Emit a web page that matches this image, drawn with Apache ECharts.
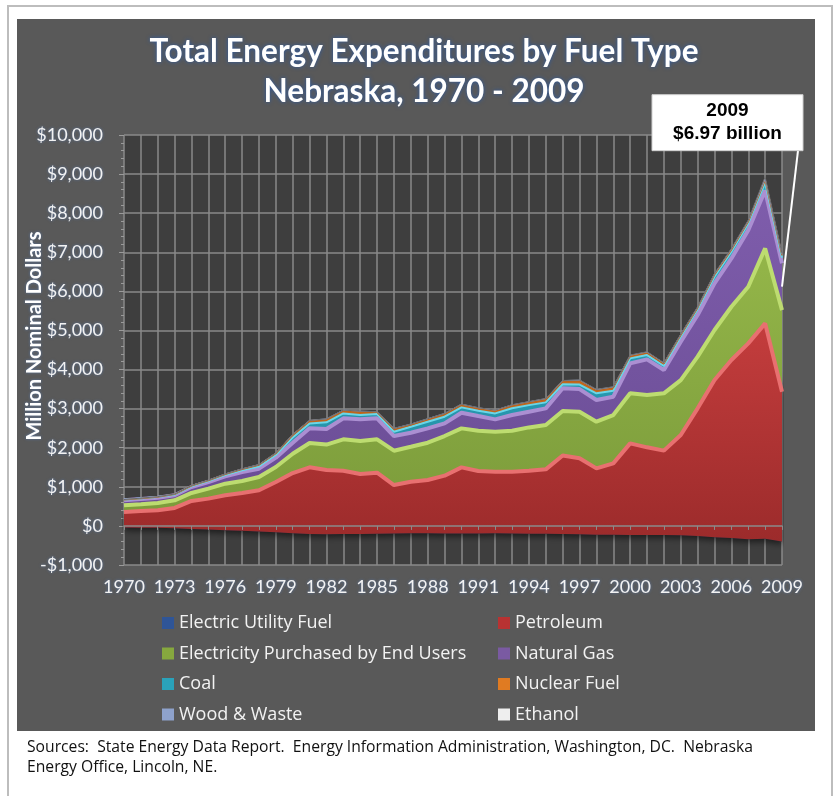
<!DOCTYPE html>
<html><head><meta charset="utf-8">
<script src="https://cdn.jsdelivr.net/npm/echarts@6/dist/echarts.min.js"></script>
<style>html,body{margin:0;padding:0;background:#fff}#c{width:835px;height:796px}</style>
</head><body><div id="c"></div>
<script>
const years = ['1970','1971','1972','1973','1974','1975','1976','1977','1978','1979',
  '1980','1981','1982','1983','1984','1985','1986','1987','1988','1989',
  '1990','1991','1992','1993','1994','1995','1996','1997','1998','1999',
  '2000','2001','2002','2003','2004','2005','2006','2007','2008','2009'];

const electricUtilityFuel = [-40,-45,-50,-60,-80,-95,-110,-125,-140,-160,
  -190,-210,-215,-210,-205,-200,-195,-190,-190,-195,
  -195,-195,-190,-195,-200,-200,-210,-215,-225,-225,
  -230,-235,-230,-240,-260,-290,-310,-340,-330,-400];
const petroleum = [397,428,450,520,718,793,893,968,1051,1283,
  1543,1710,1645,1620,1532,1562,1241,1321,1364,1480,
  1693,1599,1577,1582,1613,1647,2010,1944,1697,1825,
  2342,2245,2155,2566,3268,4022,4553,5009,5511,3833];
const electricity = [171,170,187,195,205,255,298,306,340,383,
  494,620,650,804,844,852,878,895,955,1014,
  997,1031,1023,1048,1107,1133,1140,1191,1194,1236,
  1279,1338,1466,1405,1321,1279,1364,1449,1918,2087];
const naturalGas = [127,137,136,128,153,170,187,230,213,239,
  281,380,400,537,555,537,375,358,366,323,
  401,375,315,401,401,426,580,580,554,469,
  767,912,597,981,1066,1193,1236,1449,1480,1200];
const coal = [13,13,15,17,19,27,32,41,56,70,
  132,120,170,127,110,110,111,153,170,171,
  136,137,153,174,169,154,105,115,171,153,
  128,111,102,128,145,170,171,170,200,140];
const nuclearFuel = [0,0,2,7,12,12,21,31,40,40,
  68,67,75,70,85,45,70,53,62,70,
  68,60,67,72,71,80,75,98,80,80,
  62,61,60,42,40,55,50,45,70,60];
const woodWaste = [7,7,8,8,8,8,9,9,10,10,
  12,13,14,15,15,15,15,15,15,15,
  15,15,15,15,16,16,16,17,17,17,
  17,17,17,18,18,19,20,21,25,25];
const ethanol = [0,0,0,0,0,0,0,0,0,0,
  0,0,0,0,0,0,0,0,0,0,
  2,2,3,3,3,4,4,5,5,6,
  6,7,8,8,10,12,15,20,55,25];

const yTicks = { min: -1000, max: 10000, interval: 1000 };
const calloutLines = ['2009', '$6.97 billion'];

const FONT = 'Lato, "Open Sans", sans-serif';
const LFONT = '"Open Sans", Lato, sans-serif';
const glow = { textShadowColor: 'rgba(90,140,220,0.55)', textShadowBlur: 3 };

function grad(top, bottom) {
  return new echarts.graphic.LinearGradient(0, 0, 0, 1, [
    { offset: 0, color: top }, { offset: 1, color: bottom }]);
}
function mk(name, data, color, line, top, bottom, lw, extraArea) {
  return {
    type: 'line', name: name, data: data, stack: 'total', stackStrategy: 'all',
    showSymbol: false, symbol: 'none', smooth: false,
    itemStyle: { color: color },
    lineStyle: { color: line, width: lw },
    areaStyle: Object.assign({ color: grad(top, bottom), opacity: 1 }, extraArea || {}),
    emphasis: { disabled: true }, silent: true
  };
}

const chart = echarts.init(document.getElementById('c'), null, { renderer: 'canvas' });

const legendText = { color: '#f2f2f2', fontSize: 18, fontFamily: LFONT };

chart.setOption({
  backgroundColor: '#ffffff',
  animation: false,
  title: {
    text: 'Total Energy Expenditures by Fuel Type\nNebraska, 1970 - 2009',
    left: 419, top: 27, textAlign: 'center',
    textStyle: { color: '#ffffff', fontFamily: FONT, fontWeight: 'bold', fontSize: 31.5, lineHeight: 40,
      textShadowColor: 'rgba(40,90,170,0.9)', textShadowBlur: 4 }
  },
  legend: [
    { orient: 'vertical', left: 157, top: 609, itemWidth: 12, itemHeight: 12, itemGap: 12.5, icon: 'rect',
      textStyle: legendText, selectedMode: false,
      data: ['Electric Utility Fuel', 'Electricity Purchased by End Users', 'Coal', 'Wood & Waste'] },
    { orient: 'vertical', left: 493, top: 609, itemWidth: 12, itemHeight: 12, itemGap: 12.5, icon: 'rect',
      textStyle: legendText, selectedMode: false,
      data: ['Petroleum', 'Natural Gas', 'Nuclear Fuel', 'Ethanol'] }
  ],
  grid: { left: 124, right: 53, top: 135, bottom: 231, show: true, backgroundColor: '#3e3e3e', borderWidth: 0 },
  xAxis: [
    { type: 'category', data: years, boundaryGap: false, position: 'bottom',
      axisLine: { show: false, onZero: false }, axisTick: { show: false },
      axisLabel: { interval: 2, margin: 13, color: '#f2f2f2', fontSize: 18, fontFamily: FONT, ...glow },
      splitLine: { show: true, interval: 0, lineStyle: { color: '#8a8a8a', width: 1.5 } } },
    { type: 'category', data: years, boundaryGap: false, position: 'bottom', z: 10,
      axisLine: { show: true, onZero: true, lineStyle: { color: '#8a8a8a', width: 1.5 } },
      axisTick: { show: true, interval: 0, length: 4, lineStyle: { color: '#8a8a8a' } },
      axisLabel: { show: false }, splitLine: { show: false } }
  ],
  yAxis: {
    type: 'value', min: yTicks.min, max: yTicks.max, interval: yTicks.interval,
    name: 'Million Nominal Dollars', nameLocation: 'middle', nameGap: 79, nameRotate: 90,
    nameMoveOverlap: false,
    nameTextStyle: { color: '#ffffff', fontFamily: FONT, fontWeight: 'bold', fontSize: 20, padding: [0, 0, 0, 28], ...glow },
    axisLine: { show: false },
    axisTick: { show: true, length: 5, lineStyle: { color: '#9a9a9a' } },
    minorTick: { show: true, splitNumber: 5, length: 3, lineStyle: { color: '#9a9a9a' } },
    axisLabel: { margin: 21, color: '#f2f2f2', fontSize: 18, fontFamily: FONT, ...glow,
      formatter: v => (v < 0 ? '-$' : '$') + Math.abs(v).toLocaleString('en-US') },
    splitLine: { show: true, lineStyle: { color: '#8a8a8a', width: 1.5 } }
  },
  series: [
    mk('Electric Utility Fuel', electricUtilityFuel, '#2f5597', 'rgba(0,0,0,0)', '#2f5597', '#24467f', 0),
    mk('Petroleum', petroleum, '#b83232', '#e87070', '#c43d3d', '#9c2b2b', 4,
      { shadowColor: 'rgba(0,0,0,0.55)', shadowBlur: 6, shadowOffsetY: 3 }),
    mk('Electricity Purchased by End Users', electricity, '#86a83e', '#bddc70', '#94b649', '#7c9c3b', 4),
    mk('Natural Gas', naturalGas, '#7a5aa2', '#ab8fd2', '#7f5dac', '#6a4d95', 4),
    mk('Coal', coal, '#2aa2ba', '#6ad6e8', '#2ba6be', '#2590a6', 2),
    mk('Nuclear Fuel', nuclearFuel, '#e07b22', '#b8621c', '#d97420', '#b8621c', 1.5),
    mk('Wood & Waste', woodWaste, '#8ea2cc', '#8ea2cc', '#8ea2cc', '#8ea2cc', 1),
    mk('Ethanol', ethanol, '#eeeeee', '#6a6a6a', '#d8d8d8', '#d8d8d8', 1)
  ]
});

// callout anchored to the 2009 natural gas band through the chart's own scale
const last = years.length - 1;
let cum = 0;
[electricUtilityFuel, petroleum, electricity].forEach(a => { cum += a[last]; });
const anchorVal = cum + naturalGas[last] * 0.5;
const p = chart.convertToPixel({ xAxisIndex: 0, yAxisIndex: 0 }, [years[last], anchorVal]);

chart.setOption({
  graphic: { elements: [
    { type: 'rect', z: -100, silent: true, shape: { x: 8, y: 6, width: 824, height: 800 },
      style: { fill: '#ffffff', stroke: '#bdbdbd', lineWidth: 2 } },
    { type: 'rect', z: -99, silent: true, shape: { x: 17, y: 19, width: 798, height: 712 },
      style: { fill: '#595959' } },
    { type: 'text', left: 27, top: 738, silent: true,
      style: { text: 'Sources:  State Energy Data Report.  Energy Information Administration, Washington, DC.  Nebraska\nEnergy Office, Lincoln, NE.',
        fill: '#111111', font: '15.7px "Open Sans", sans-serif', lineHeight: 20 } },
    { type: 'line', z: 50, silent: true,
      shape: { x1: p[0], y1: p[1], x2: p[0] + 16, y2: p[1] - 136 },
      style: { stroke: '#ffffff', lineWidth: 2 } },
    { type: 'rect', z: 51, silent: true,
      shape: { x: p[0] - 130, y: p[1] - 192, width: 151, height: 56 },
      style: { fill: '#ffffff', stroke: '#d0d0d0', lineWidth: 1 } },
    { type: 'text', z: 52, silent: true, x: p[0] - 54.5, y: p[1] - 164,
      style: { text: calloutLines.join('\n'), fill: '#000000', align: 'center', verticalAlign: 'middle',
        font: 'bold 19px "Liberation Sans", Arial, sans-serif', lineHeight: 23 } }
  ] }
});
</script>
</body></html>
